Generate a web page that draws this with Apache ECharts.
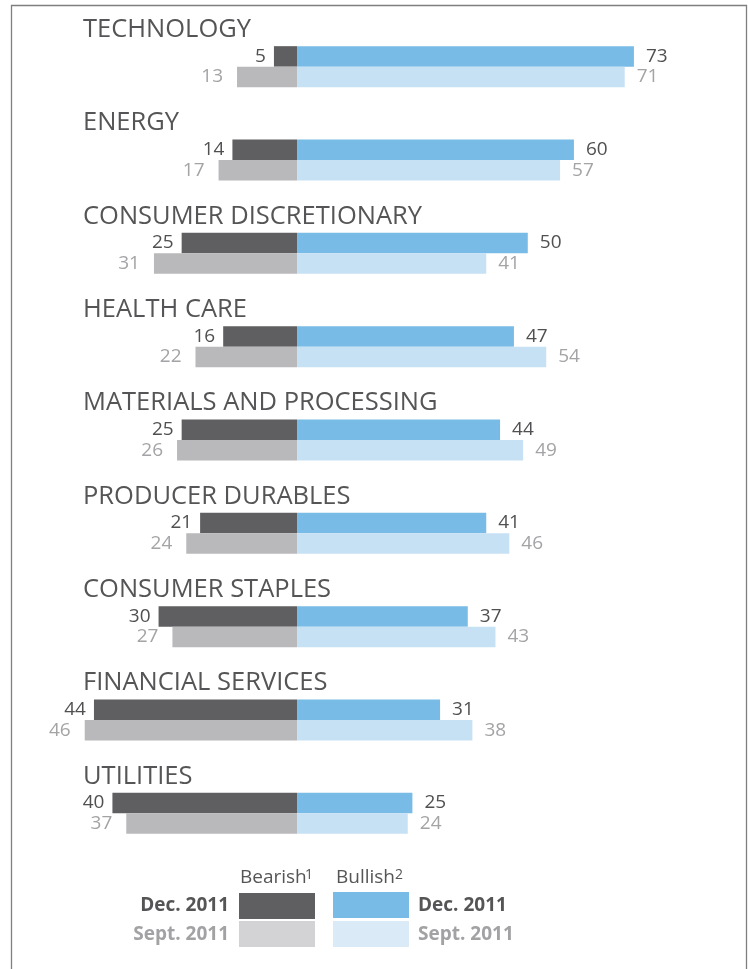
<!DOCTYPE html>
<html>
<head>
<meta charset="utf-8">
<script src="https://cdn.jsdelivr.net/npm/echarts@6/dist/echarts.min.js"></script>
<style>
  html, body { margin: 0; padding: 0; background: #ffffff; }
  #chart { width: 748px; height: 969px; }
</style>
</head>
<body>
<div id="chart"></div>
<script>
// Sector sentiment: share of respondents bearish / bullish, Dec. 2011 vs Sept. 2011
const categories = [
  'TECHNOLOGY', 'ENERGY', 'CONSUMER DISCRETIONARY', 'HEALTH CARE',
  'MATERIALS AND PROCESSING', 'PRODUCER DURABLES', 'CONSUMER STAPLES',
  'FINANCIAL SERVICES', 'UTILITIES'
];
const bearishDec  = [5, 14, 25, 16, 25, 21, 30, 44, 40];
const bearishSept = [13, 17, 31, 22, 26, 24, 27, 46, 37];
const bullishDec  = [73, 60, 50, 47, 44, 41, 37, 31, 25];
const bullishSept = [71, 57, 41, 54, 49, 46, 43, 38, 24];

const FONT = '"Open Sans", "Noto Sans", sans-serif';
const C_DARK = '#5f5f61';
const C_GREY = '#b9b9bc';
const C_BLUE = '#77bbe6';
const C_LBLUE = '#c7e1f4';
const T_DARK = '#505052';
const T_LIGHT = '#a4a4a7';

const chart = echarts.init(document.getElementById('chart'), null, { renderer: 'canvas' });

function barLabel(pos, color, dist) {
  return {
    show: true,
    position: pos,
    distance: dist,
    color: color,
    fontFamily: FONT,
    fontSize: 19,
    formatter: p => Math.abs(p.value)
  };
}

const option = {
  backgroundColor: '#ffffff',
  animation: false,
  grid: { left: 43.2, right: 12.55, top: 20, bottom: 109, containLabel: false },
  xAxis: {
    type: 'value', min: -55, max: 95,
    show: false
  },
  yAxis: {
    type: 'category',
    data: categories,
    inverse: true,
    axisLine: { show: false },
    axisTick: { show: false },
    splitLine: { show: false },
    axisLabel: {
      show: true,
      interval: 0,
      inside: true,
      margin: 39.8,
      align: 'left',
      verticalAlign: 'middle',
      // sector name sits above its pair of bars: a tall empty second line pushes it up
      formatter: v => '{t|' + v + '}\n{s| }',
      rich: {
        t: { color: '#555557', fontFamily: FONT, fontSize: 25.5, lineHeight: 30 },
        s: { fontSize: 10, lineHeight: 74 }
      }
    }
  },
  series: [
    {
      name: 'Bearish Dec. 2011', type: 'bar', stack: 'dec',
      barWidth: 20.5, barGap: 0,
      data: bearishDec.map(v => -v),
      itemStyle: { color: C_DARK },
      label: barLabel('left', T_DARK, 8)
    },
    {
      name: 'Bullish Dec. 2011', type: 'bar', stack: 'dec',
      barWidth: 20.5, barGap: 0,
      data: bullishDec,
      itemStyle: { color: C_BLUE },
      label: barLabel('right', T_DARK, 12)
    },
    {
      name: 'Bearish Sept. 2011', type: 'bar', stack: 'sept',
      barWidth: 20.5, barGap: 0,
      data: bearishSept.map(v => -v),
      itemStyle: { color: C_GREY },
      label: barLabel('left', T_LIGHT, 14)
    },
    {
      name: 'Bullish Sept. 2011', type: 'bar', stack: 'sept',
      barWidth: 20.5, barGap: 0,
      data: bullishSept,
      itemStyle: { color: C_LBLUE },
      label: barLabel('right', T_LIGHT, 12)
    }
  ],
  graphic: [
    // frame
    {
      type: 'polyline', silent: true,
      shape: { points: [[11.5, 969], [11.5, 5.5], [746.5, 5.5], [746.5, 969]] },
      style: { stroke: '#7f7f81', lineWidth: 1.3, fill: null }
    },
    // legend headings
    { type: 'text', style: { x: 240, y: 878, text: 'Bearish', font: '19px ' + FONT, fill: '#555557', textVerticalAlign: 'middle' } },
    { type: 'text', style: { x: 305, y: 875, text: '1', font: '14px ' + FONT, fill: '#555557', textVerticalAlign: 'middle' } },
    { type: 'text', style: { x: 336, y: 878, text: 'Bullish', font: '19px ' + FONT, fill: '#555557', textVerticalAlign: 'middle' } },
    { type: 'text', style: { x: 395, y: 875, text: '2', font: '14px ' + FONT, fill: '#555557', textVerticalAlign: 'middle' } },
    // legend swatches
    { type: 'rect', shape: { x: 239, y: 893, width: 76, height: 26 }, style: { fill: C_DARK } },
    { type: 'rect', shape: { x: 239, y: 921, width: 76, height: 26 }, style: { fill: '#d3d3d5' } },
    { type: 'rect', shape: { x: 333, y: 892, width: 76, height: 26 }, style: { fill: C_BLUE } },
    { type: 'rect', shape: { x: 333, y: 921, width: 76, height: 26 }, style: { fill: '#dbeaf7' } },
    // legend period labels
    { type: 'text', style: { x: 229, y: 906, text: 'Dec. 2011', font: 'bold 19px ' + FONT, fill: '#555557', textAlign: 'right', textVerticalAlign: 'middle' } },
    { type: 'text', style: { x: 229, y: 935, text: 'Sept. 2011', font: 'bold 19px ' + FONT, fill: '#a2a2a5', textAlign: 'right', textVerticalAlign: 'middle' } },
    { type: 'text', style: { x: 418, y: 906, text: 'Dec. 2011', font: 'bold 19px ' + FONT, fill: '#555557', textAlign: 'left', textVerticalAlign: 'middle' } },
    { type: 'text', style: { x: 418, y: 935, text: 'Sept. 2011', font: 'bold 19px ' + FONT, fill: '#a2a2a5', textAlign: 'left', textVerticalAlign: 'middle' } }
  ]
};

chart.setOption(option);
</script>
</body>
</html>
